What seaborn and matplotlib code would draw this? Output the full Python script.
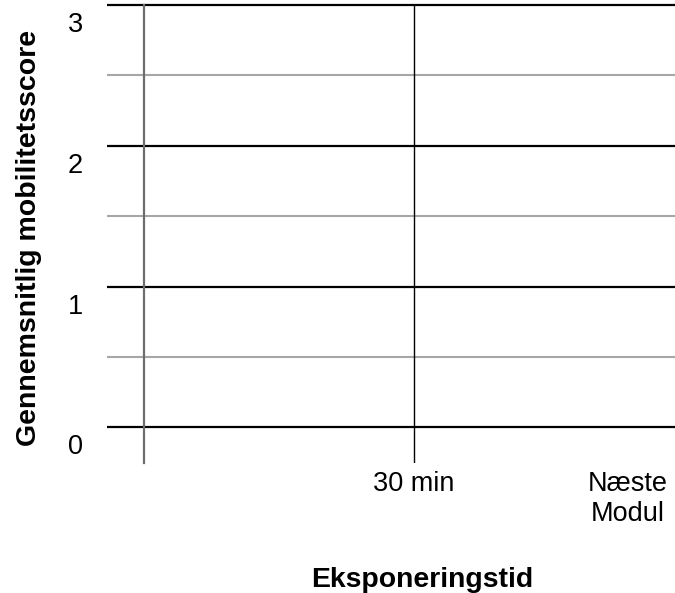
import numpy as np
import pandas as pd
import matplotlib
matplotlib.use("Agg")
import matplotlib.pyplot as plt
import matplotlib.transforms as mtransforms
import seaborn as sns

# ---- data (empty chart: no scores shown) ----
categories = ["30 min", "Næste\nModul"]
scores = [np.nan, np.nan]
y_major = [0, 1, 2, 3]
y_minor = [0.5, 1.5, 2.5]
y_labels = ["0", "1", "2", "3"]
x_title = "Eksponeringstid"
y_title = "Gennemsnitlig mobilitetsscore"

sns.set_style("white")
plt.rcParams["font.family"] = ["Liberation Sans", "DejaVu Sans"]
plt.rcParams["text.color"] = "black"
plt.rcParams["axes.labelcolor"] = "black"
plt.rcParams["xtick.color"] = "black"
plt.rcParams["ytick.color"] = "black"

fig = plt.figure(figsize=(6.75, 5.93), dpi=100)
W, H = 675, 593
ax = fig.add_axes([107 / W, 1 - 463 / H, 568 / W, 463 / H])

df = pd.DataFrame({"cat": list(range(len(categories))), "score": scores})
try:
    sns.lineplot(data=df.dropna(), x="cat", y="score", ax=ax, color="black")
except Exception:
    pass

ymin, ymax = -0.2518, 3.032
ax.set_ylim(ymin, ymax)
ax.set_xlim(-1.4346, 1.2196)

ax.set_yticks(y_major)
ax.set_yticklabels([])
ax.set_yticks(y_minor, minor=True)
ax.yaxis.grid(True, which="major", color="black", linewidth=1.6)
ax.yaxis.grid(True, which="minor", color="#a6a6a6", linewidth=1.5)
ax.xaxis.grid(False)
ax.set_axisbelow(True)

# y tick labels, drawn below their gridlines as in the reference
lab_tr = mtransforms.blended_transform_factory(ax.transAxes, ax.transData) + \
    mtransforms.ScaledTranslation(-24 / 100, -20 / 100, fig.dpi_scale_trans)
for v, t in zip(y_major, y_labels):
    ax.text(0, v, t, transform=lab_tr, ha="right", va="center",
            fontsize=19.5, color="black")

ax.set_xticks(range(len(categories)))
ax.set_xticklabels(categories, fontsize=19.5, linespacing=1.2)
ax.tick_params(axis="x", length=0, pad=5.5)
ax.tick_params(axis="y", which="both", length=0)

# vertical line at the "30 min" category
ax.vlines(0, ymin, y_major[-1], color="black", linewidth=1.0, zorder=1)

for s in ["top", "right", "bottom"]:
    ax.spines[s].set_visible(False)
ax.spines["left"].set_position(("data", -1.263))
ax.spines["left"].set_bounds(ymin, y_major[-1])
ax.spines["left"].set_color("#6e6e6e")
ax.spines["left"].set_linewidth(1.6)

ax.set_ylabel(y_title, fontsize=20.5, fontweight="bold")
ax.yaxis.set_label_coords(-0.115, 0.487)
ax.set_xlabel(x_title, fontsize=20.4, fontweight="bold")
ax.xaxis.set_label_coords(0.5546, -0.2256)

fig.savefig("out.png", dpi=100)
